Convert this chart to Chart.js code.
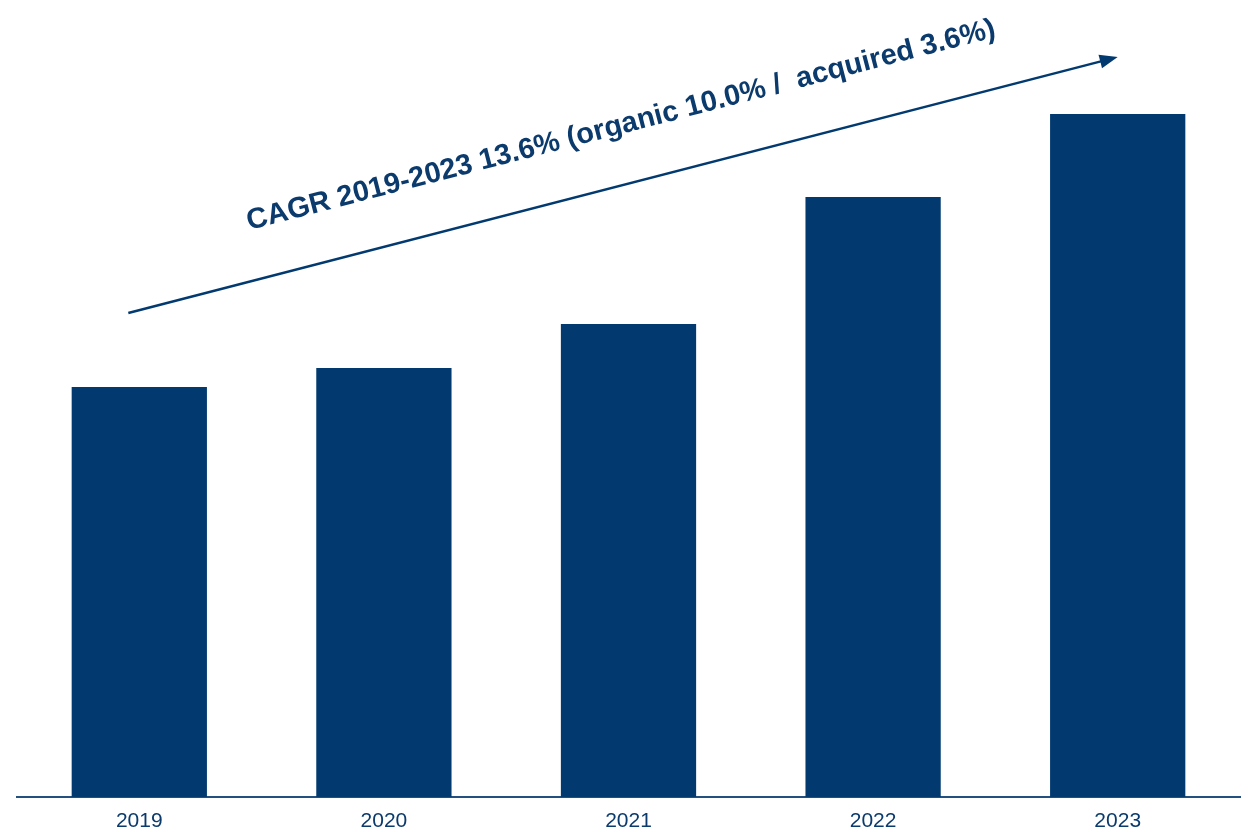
<!DOCTYPE html>
<html lang="en">
<head>
  <meta charset="UTF-8"/>
  <title>CAGR 2019-2023</title>
  <script src="https://cdn.jsdelivr.net/npm/chart.js"></script>
  <style>
    html, body { margin: 0; padding: 0; background: #ffffff; }
    .wrap { width: 1248px; height: 832px; position: relative; }
  </style>
</head>
<body>
<div class="wrap">
  <canvas id="cagrChart"></canvas>
</div>

<script>
  // values (relative units)
  const years = ['2019', '2020', '2021', '2022', '2023'];
  const sales = [410, 429, 473, 600, 683];
  const yMax = 797;

  // trend arrow anchored to the scales: [category index, value]
  const arrowFrom = [-0.045, 484];
  const arrowTo = [4, 740];
  const cagrLabel = 'CAGR 2019-2023 13.6% (organic 10.0% /  acquired 3.6%)';

  const navy = '#023a70';
  const textNavy = '#0b3a6c';

  const arrowPlugin = {
    id: 'cagrArrow',
    afterDatasetsDraw(chart) {
      const { ctx, scales: { x, y } } = chart;
      const x0 = x.getPixelForValue(arrowFrom[0]);
      const y0 = y.getPixelForValue(arrowFrom[1]);
      const x1 = x.getPixelForValue(arrowTo[0]);
      const y1 = y.getPixelForValue(arrowTo[1]);
      const ang = Math.atan2(y1 - y0, x1 - x0);
      const head = 18;

      ctx.save();
      ctx.strokeStyle = navy;
      ctx.fillStyle = navy;
      ctx.lineWidth = 2.5;
      ctx.beginPath();
      ctx.moveTo(x0, y0);
      ctx.lineTo(x1 - head * 0.8 * Math.cos(ang), y1 - head * 0.8 * Math.sin(ang));
      ctx.stroke();

      // arrow head
      ctx.translate(x1, y1);
      ctx.rotate(ang);
      ctx.beginPath();
      ctx.moveTo(0, 0);
      ctx.lineTo(-head, -7);
      ctx.lineTo(-head, 7);
      ctx.closePath();
      ctx.fill();
      ctx.restore();

      // label above the line
      ctx.save();
      ctx.translate((x0 + x1) / 2, (y0 + y1) / 2);
      ctx.rotate(ang);
      ctx.fillStyle = textNavy;
      ctx.font = 'bold 29px "Liberation Sans", Arial, sans-serif';
      ctx.textAlign = 'center';
      ctx.textBaseline = 'middle';
      ctx.fillText(cagrLabel, 13, -58);
      ctx.restore();
    }
  };

  const ctx = document.getElementById('cagrChart').getContext('2d');
  new Chart(ctx, {
    type: 'bar',
    data: {
      labels: years,
      datasets: [{
        data: sales,
        backgroundColor: navy,
        borderWidth: 0,
        categoryPercentage: 1,
        barPercentage: 0.553
      }]
    },
    options: {
      responsive: true,
      maintainAspectRatio: false,
      animation: false,
      layout: { padding: { left: 17, right: 8, top: 0, bottom: 0 } },
      plugins: {
        legend: { display: false },
        tooltip: { enabled: false }
      },
      scales: {
        x: {
          afterFit: (scale) => { scale.height = 35; },
          grid: { display: false, drawTicks: false },
          border: { display: true, color: '#24507f', width: 2 },
          ticks: {
            color: textNavy,
            padding: 14,
            font: { family: '"Liberation Sans", Arial, sans-serif', size: 21, lineHeight: 1 }
          }
        },
        y: {
          display: false,
          min: 0,
          max: yMax
        }
      }
    },
    plugins: [arrowPlugin]
  });
</script>
</body>
</html>
